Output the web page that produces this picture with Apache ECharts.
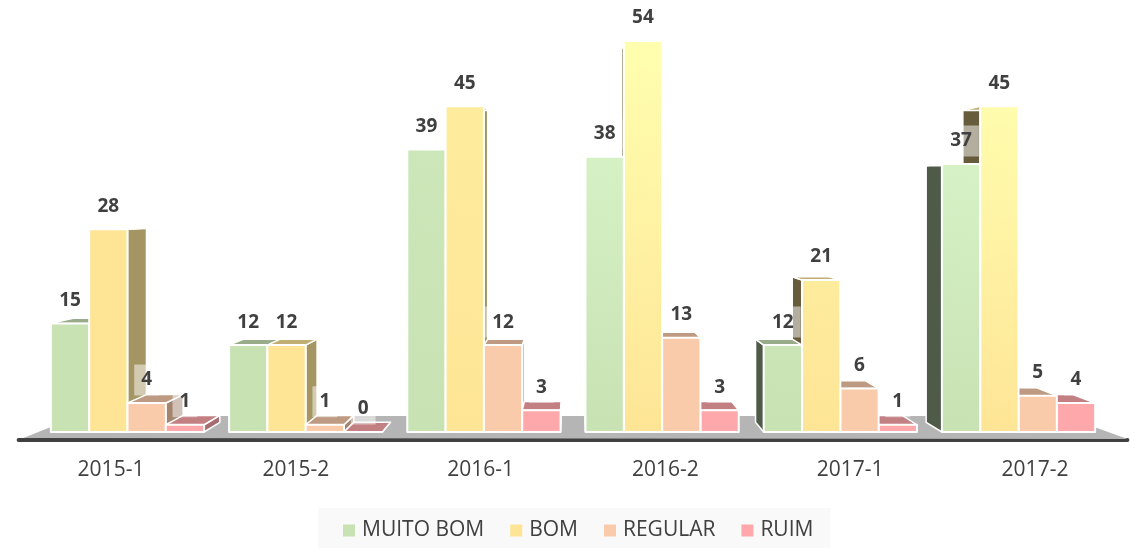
<!DOCTYPE html>
<html>
<head>
<meta charset="utf-8">
<title>Avaliacao por semestre</title>
<style>
	html, body { margin: 0; padding: 0; background: #fff; }
	#chart { width: 1135px; height: 548px; }
</style>
<script src="https://cdn.jsdelivr.net/npm/echarts@6/dist/echarts.min.js"></script>
</head>
<body>
<div id="chart"></div>
<script>
var categories = ['2015-1', '2015-2', '2016-1', '2016-2', '2017-1', '2017-2'];
var muitoBom = [15, 12, 39, 38, 12, 37];
var bom = [28, 12, 45, 54, 21, 45];
var regular = [4, 1, 12, 13, 6, 5];
var ruim = [1, 0, 3, 3, 1, 4];
var seriesNames = ['MUITO BOM', 'BOM', 'REGULAR', 'RUIM'];
var seriesValues = [muitoBom, bom, regular, ruim];
var baseColors = ['#c8e2b4', '#fee596', '#f9cbaa', '#ffa8ac'];
var brightColors = ['#dcf8cc', '#ffffb0', '#f9cbaa', '#ffa8ac'];
// altura em px do degrade de brilho em cada grupo (0 = cor lisa)
var glowSpan = [0, 0, 1300, 390, 600, 360];

var FONT = '"Open Sans", sans-serif';
// ponto de fuga da perspectiva do grafico 3D
var VP = [573, 205];
var DEPTH = 0.0426;

function toBack (p) {
	return [p[0] + (VP[0] - p[0]) * DEPTH, p[1] + (VP[1] - p[1]) * DEPTH];
}

function shade (hex, k) {
	var n = parseInt(hex.slice(1), 16);
	var r = Math.round((n >> 16) * k);
	var g = Math.round(((n >> 8) & 255) * k);
	var b = Math.round((n & 255) * k);
	return 'rgb(' + r + ',' + g + ',' + b + ')';
}

function face (points, fill, z2, width) {
	return {
		type: 'polygon',
		z2: z2,
		shape: { points: points },
		style: { fill: fill, stroke: '#fff', lineWidth: width, lineJoin: 'round' }
	};
}

function barRenderer (index) {
	return function (params, api) {
		var category = api.value(0);
		var value = api.value(1);
		var base = api.coord([category, 0]);
		var top = api.coord([category, value]);
		var barWidth = api.size([1, 0])[0] * 0.215;
		var x0 = base[0] + (index - 2) * barWidth;
		var x1 = x0 + barWidth;
		var a = [x0, top[1]], b = [x1, top[1]], c = [x1, base[1]], d = [x0, base[1]];
		var cx = (x0 + x1) / 2;
		// quanto mais longe do ponto de fuga, antes e desenhado
		var z = 2000 - Math.abs(cx - VP[0]);
		var children = [];
		if (x1 < VP[0]) {
			children.push(face([b, toBack(b), toBack(c), c], shade(baseColors[index], 0.65), z, 1.5));
		} else if (x0 > VP[0]) {
			children.push(face([a, toBack(a), toBack(d), d], shade(baseColors[index], 0.4), z, 1.5));
		}
		children.push(face([a, toBack(a), toBack(b), b], shade(baseColors[index], 0.76), z + 0.1, 1.5));
		var fill = baseColors[index];
		var span = glowSpan[category];
		if (span) {
			fill = new echarts.graphic.LinearGradient(base[0], base[1], base[0] + span * 0.15, base[1] - span, [
				{ offset: 0, color: baseColors[index] },
				{ offset: 1, color: brightColors[index] }
			], true);
		}
		children.push(face([a, b, c, d], fill, z + 0.2, 2));
		children.push({
			type: 'text',
			z2: 5000,
			style: {
				text: String(value),
				x: cx,
				y: top[1] - 23,
				align: 'center',
				verticalAlign: 'middle',
				font: 'bold 19px ' + FONT,
				fill: '#404040',
				backgroundColor: 'rgba(255,255,255,0.5)',
				padding: [6, 7, 6, 7]
			}
		});
		return { type: 'group', children: children };
	};
}

function floorRenderer (params, api) {
	var base = api.coord([0, 0])[1];
	var sys = params.coordSys;
	return {
		type: 'polygon',
		z2: 0,
		shape: {
			points: [
				[sys.x - 15, base + 6],
				[sys.x + 40, base - 16],
				[sys.x + sys.width - 44, base - 16],
				[sys.x + sys.width + 20, base + 7]
			]
		},
		style: { fill: '#b5b5b5' }
	};
}

var series = [{
	name: 'piso',
	type: 'custom',
	silent: true,
	renderItem: floorRenderer,
	data: [[0, 0]]
}];
seriesNames.forEach(function (name, index) {
	series.push({
		name: name,
		type: 'custom',
		silent: true,
		itemStyle: { color: baseColors[index] },
		encode: { x: 0, y: 1 },
		renderItem: barRenderer(index),
		data: seriesValues[index].map(function (v, i) { return [i, v]; })
	});
});

var option = {
	animation: false,
	backgroundColor: '#fff',
	legend: {
		data: seriesNames,
		left: 318,
		top: 508,
		backgroundColor: '#f9f9f9',
		padding: [12, 17, 7, 25],
		itemWidth: 12,
		itemHeight: 12,
		itemGap: 26,
		icon: 'rect',
		selectedMode: false,
		textStyle: { fontFamily: FONT, fontSize: 21, color: '#404040', padding: [0, 0, 0, 2] }
	},
	grid: [
		{ left: 38.4, right: 27.4, top: 41, bottom: 116 },
		{ left: 18.6, right: 7.6, top: 41, bottom: 108 }
	],
	xAxis: [
		{ type: 'category', gridIndex: 0, show: false, data: categories },
		{
			type: 'category',
			gridIndex: 1,
			data: categories,
			axisTick: { show: false },
			axisLine: { lineStyle: { color: '#404040', width: 4, cap: 'round' } },
			axisLabel: { fontFamily: FONT, fontSize: 21, color: '#404040', margin: 20 }
		}
	],
	yAxis: [
		{ type: 'value', gridIndex: 0, show: false, min: 0, max: 54 },
		{ type: 'value', gridIndex: 1, show: false, min: 0, max: 1 }
	],
	series: series
};

var chart = echarts.init(document.getElementById('chart'));
chart.setOption(option);
</script>
</body>
</html>
